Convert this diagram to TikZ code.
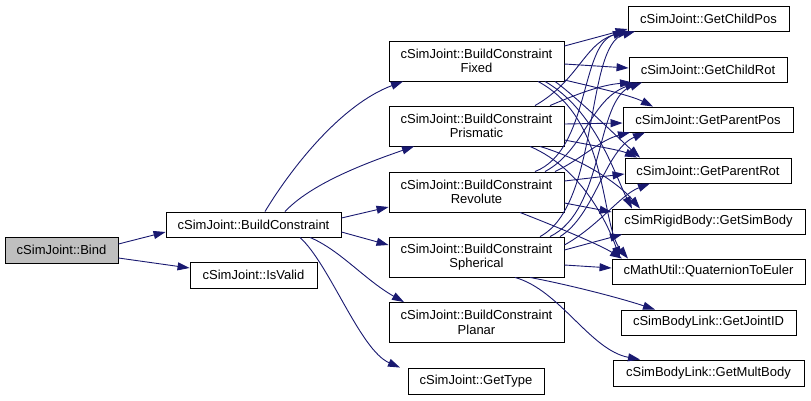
\documentclass[tikz,border=0pt]{standalone}
\usepackage{fontspec}
\setmainfont{Liberation Sans}
\usetikzlibrary{arrows.meta}
\definecolor{edgeblue}{RGB}{25,25,112}
\definecolor{bindgray}{RGB}{191,191,191}
\begin{document}
\begin{tikzpicture}[x=1pt,y=-1pt,
  fn/.style={draw=black,line width=0.9pt,fill=white,inner sep=0pt,align=center,
    font=\fontsize{13}{14.5}\selectfont,minimum height=25pt},
  fn2/.style={fn,minimum height=40pt},
  e/.style={draw=edgeblue,line width=0.9pt,-{Triangle[length=12pt,width=8pt]}}]
\useasboundingbox (0,0) rectangle (811,400);
% nodes
\node[fn,fill=bindgray,minimum width=113pt,minimum height=26pt] (bind) at (61.5,250) {cSimJoint::Bind};
\node[fn,minimum width=175pt] (bc) at (253.5,224.5) {cSimJoint::BuildConstraint};
\node[fn,minimum width=127pt,minimum height=26pt] (isvalid) at (253.5,275) {cSimJoint::IsValid};
\node[fn2,minimum width=175pt] (fixed) at (476.5,61) {cSimJoint::BuildConstraint\\Fixed};
\node[fn2,minimum width=175pt] (prism) at (476.5,126) {cSimJoint::BuildConstraint\\Prismatic};
\node[fn2,minimum width=175pt] (revol) at (476.5,192) {cSimJoint::BuildConstraint\\Revolute};
\node[fn2,minimum width=175pt] (spher) at (476.5,257) {cSimJoint::BuildConstraint\\Spherical};
\node[fn2,minimum width=175pt] (planar) at (476.5,322.5) {cSimJoint::BuildConstraint\\Planar};
\node[fn,minimum width=136pt,minimum height=26pt] (gettype) at (476,381) {cSimJoint::GetType};
\node[fn,minimum width=161pt] (gcp) at (708.5,18.5) {cSimJoint::GetChildPos};
\node[fn,minimum width=158pt] (gcr) at (708,69.5) {cSimJoint::GetChildRot};
\node[fn,minimum width=170pt] (gpp) at (708,119.5) {cSimJoint::GetParentPos};
\node[fn,minimum width=166pt] (gpr) at (708,170.5) {cSimJoint::GetParentRot};
\node[fn,minimum width=193pt] (gsb) at (708.5,221.5) {cSimRigidBody::GetSimBody};
\node[fn,minimum width=193pt] (q2e) at (708.5,271.5) {cMathUtil::QuaternionToEuler};
\node[fn,minimum width=175pt] (gji) at (708.5,322.5) {cSimBodyLink::GetJointID};
\node[fn,minimum width=191pt,minimum height=26pt] (gmb) at (708.5,373) {cSimBodyLink::GetMultBody};
% edges from Bind
\draw[e] ([yshift=6pt]bind.east) -- ([yshift=-7.5pt]bc.west);
\draw[e] ([yshift=-8pt]bind.east) -- ([yshift=7pt]isvalid.west);
% edges from BuildConstraint
\draw[e] ([xshift=11.5pt]bc.north) .. controls (290,170) and (340,105) .. ([xshift=-73.5pt]fixed.south);
\draw[e] ([xshift=31.5pt]bc.north) .. controls (310,185) and (360,165) .. ([xshift=-62.5pt]prism.south);
\draw[e] ([yshift=6.5pt]bc.east) -- ([yshift=-15pt]revol.west);
\draw[e] ([yshift=-7.5pt]bc.east) -- ([yshift=12pt]spher.west);
\draw[e] ([xshift=56.5pt]bc.south) .. controls (340,250) and (365,280) .. ([xshift=-72.5pt]planar.north);
\draw[e] ([xshift=46.5pt]bc.south) .. controls (330,265) and (360,350) .. ([xshift=-76pt]gettype.north);
% Fixed
\draw[e] ([yshift=15pt]fixed.east) -- ([yshift=-10.5pt]gcp.west);
\draw[e] ([yshift=-3pt]fixed.east) -- ([yshift=1.5pt]gcr.west);
\draw[e] ([yshift=-19pt]fixed.east) .. controls (590,86) and (630,95) .. ([xshift=-55pt]gpp.north);
\draw[e] ([xshift=78.5pt]fixed.south) .. controls (580,100) and (615,135) .. ([xshift=-68pt]gpr.north);
\draw[e] ([xshift=68.5pt]fixed.south) .. controls (595,110) and (615,175) .. ([xshift=-76.5pt]gsb.north);
\draw[e] ([xshift=61.5pt]fixed.south) .. controls (610,120) and (600,225) .. ([xshift=-80.5pt]q2e.north);
% Prismatic
\draw[e] ([xshift=58.5pt]prism.north) .. controls (580,80) and (585,40) .. ([xshift=-78.5pt]gcp.south);
\draw[e] ([xshift=73.5pt]prism.north) .. controls (575,95) and (600,85) .. ([xshift=-76pt]gcr.south);
\draw[e] ([yshift=2pt]prism.east) -- ([yshift=-3.5pt]gpp.west);
\draw[e] ([yshift=-14pt]prism.east) .. controls (590,145) and (620,150) .. ([xshift=-71pt]gpr.north);
\draw[e] ([xshift=63.5pt]prism.south) .. controls (585,160) and (620,185) .. ([xshift=-68.5pt]gsb.north);
\draw[e] ([xshift=53.5pt]prism.south) .. controls (585,170) and (610,230) .. ([xshift=-88.5pt]q2e.north);
% Revolute
\draw[e] ([xshift=58.5pt]revol.north) .. controls (590,150) and (580,45) .. ([xshift=-83.5pt]gcp.south);
\draw[e] ([xshift=68.5pt]revol.north) .. controls (585,150) and (590,100) .. ([xshift=-71pt]gcr.south);
\draw[e] ([xshift=78.5pt]revol.north) .. controls (580,160) and (600,140) .. ([xshift=-78pt]gpp.south);
\draw[e] ([yshift=11pt]revol.east) -- ([yshift=-3.5pt]gpr.west);
\draw[e] ([yshift=-11pt]revol.east) -- ([yshift=9.5pt]gsb.west);
\draw[e] ([xshift=43.5pt]revol.south) .. controls (560,228) and (600,245) .. ([xshift=-86.5pt]q2e.north);
% Spherical
\draw[e] ([xshift=63.5pt]spher.north) .. controls (600,205) and (585,45) .. ([xshift=-73.5pt]gcp.south);
\draw[e] ([xshift=73.5pt]spher.north) .. controls (605,210) and (595,100) .. ([xshift=-66pt]gcr.south);
\draw[e] ([xshift=83.5pt]spher.north) .. controls (595,215) and (605,150) .. ([xshift=-63pt]gpp.south);
\draw[e] ([yshift=12pt]spher.east) .. controls (600,225) and (620,195) .. ([xshift=-58pt]gpr.south);
\draw[e] ([yshift=7pt]spher.east) -- ([xshift=-86.5pt]gsb.south);
\draw[e] ([yshift=-8pt]spher.east) -- ([yshift=3.5pt]q2e.west);
\draw[e] ([xshift=53.5pt]spher.south) .. controls (570,285) and (620,298) .. ([xshift=-53.5pt]gji.north);
\draw[e] ([xshift=38.5pt]spher.south) .. controls (560,290) and (590,350) .. ([xshift=-68.5pt]gmb.north);
\end{tikzpicture}
\end{document}
